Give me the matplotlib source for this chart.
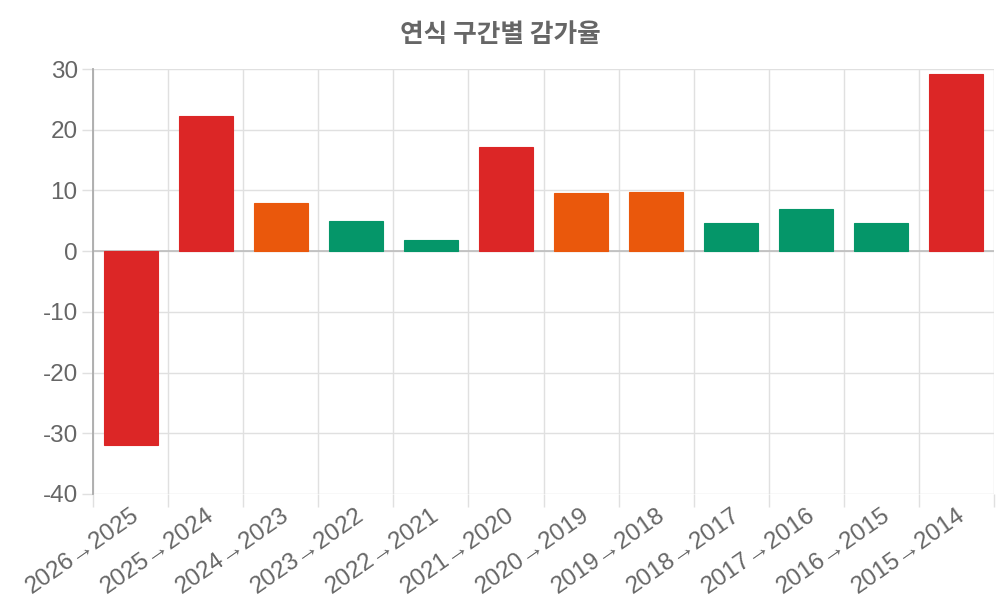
import matplotlib as mpl
import matplotlib.pyplot as plt
import numpy as np

mpl.use('Agg')

plt.rcParams['font.family'] = ['Liberation Sans', 'Noto Sans CJK KR', 'DejaVu Sans']

구간 = ['2026→2025', '2025→2024', '2024→2023', '2023→2022', '2022→2021', '2021→2020',
      '2020→2019', '2019→2018', '2018→2017', '2017→2016', '2016→2015', '2015→2014']
감가율 = [-32.0, 22.2, 8.0, 5.0, 1.8, 17.1, 9.5, 9.7, 4.6, 6.9, 4.7, 29.1]
색상 = ['#dc2626', '#dc2626', '#ea580c', '#059669', '#059669', '#dc2626',
      '#ea580c', '#ea580c', '#059669', '#059669', '#059669', '#dc2626']
y_ticks = [-40, -30, -20, -10, 0, 10, 20, 30]

fig = plt.figure(figsize=(10, 6), dpi=100)
ax = fig.add_axes([0.093, 0.1767, 0.901, 0.7083])

x = np.arange(len(구간))
ax.bar(x, 감가율, width=0.72, color=색상, edgecolor=색상, linewidth=0.8, zorder=3)

ax.set_xlim(-0.5, len(구간) - 0.5)
ax.set_ylim(-40, 30)
ax.set_yticks(y_ticks)
ax.set_yticklabels([str(v) for v in y_ticks])

ax.set_xticks(x)
ax.set_xticklabels(구간, rotation=35, ha='right', rotation_mode='anchor')
ax.set_xticks(np.arange(len(구간) + 1) - 0.5, minor=True)

ax.tick_params(axis='x', which='major', length=0, pad=7, labelsize=17.5, labelcolor='#666666')
ax.tick_params(axis='x', which='minor', length=9, color='#e0e0e0', width=1)
ax.tick_params(axis='y', length=8, color='#e0e0e0', width=1, labelsize=17.5,
               labelcolor='#666666', pad=3)

ax.grid(True, which='minor', axis='x', color='#e0e0e0', linewidth=1, zorder=0)
ax.grid(True, which='major', axis='y', color='#e0e0e0', linewidth=1, zorder=0)
ax.axhline(0, color='#bdbdbd', linewidth=1.2, zorder=2)

for s in ['top', 'right', 'bottom']:
    ax.spines[s].set_visible(False)
ax.spines['left'].set_color('#aaaaaa')
ax.spines['left'].set_linewidth(1.3)

fig.text(0.5, 0.942, '연식 구간별 감가율', ha='center', va='center', fontsize=18.5,
         fontweight='bold', color='#666666', family=['Noto Sans CJK KR', 'DejaVu Sans'])

plt.savefig('out.png')
